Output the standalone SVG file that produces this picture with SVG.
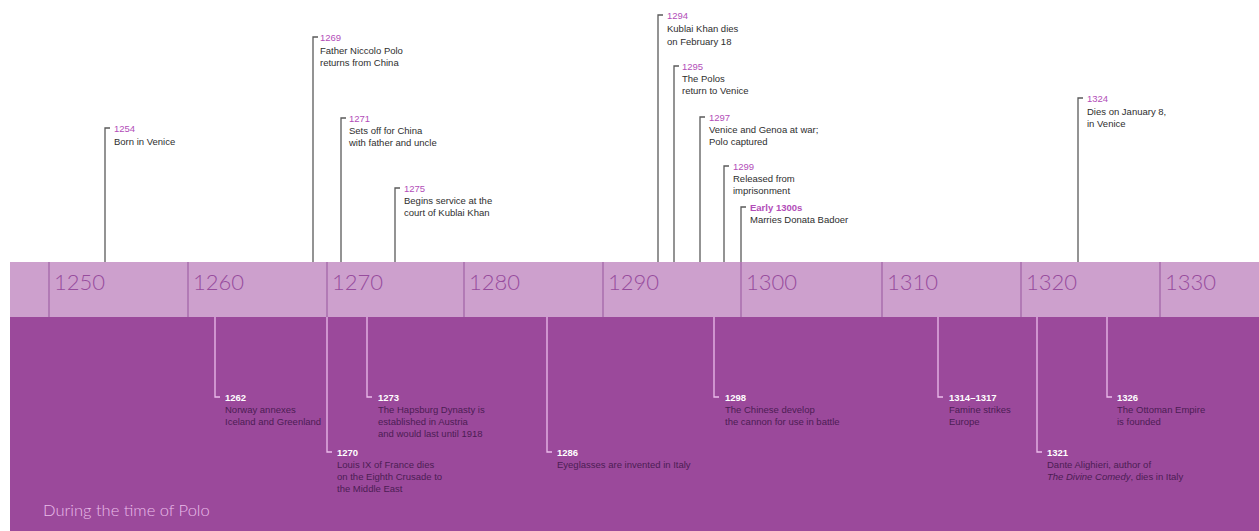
<svg xmlns="http://www.w3.org/2000/svg" width="1259" height="531" viewBox="0 0 1259 531">
<style>
.bg{fill:#ffffff}
.band{fill:#cda0cd}
.dark{fill:#9b499b}
.tick{stroke:#a062a6;stroke-width:1.2;fill:none}
.yl{font-family:"Lato","Liberation Sans",sans-serif;font-weight:300;font-size:22px;fill:#974c9d}
.tc{stroke:#5a5a5a;stroke-width:1.3;fill:none}
.bc{stroke:#ecbcec;stroke-width:1.3;fill:none}
.ty{font-family:"Liberation Sans",sans-serif;font-size:9.5px;fill:#b24db8}
.tt{font-family:"Liberation Sans",sans-serif;font-size:9.5px;fill:#2e2e2e}
.by{font-family:"Liberation Sans",sans-serif;font-size:9.5px;font-weight:bold;fill:#ffffff}
.bt{font-family:"Liberation Sans",sans-serif;font-size:9.5px;fill:#4c1d54}
.title{font-family:"Lato","Liberation Sans",sans-serif;font-weight:300;font-size:16.5px;fill:#e9bde9}
</style>
<rect class="bg" x="0" y="0" width="1259" height="531"/>
<g id="band">
<rect class="band" x="10" y="262" width="1249" height="55"/>
<rect class="dark" x="10" y="317" width="1249" height="214"/>
<path class="tick" d="M49,262V317M188,262V317M327,262V317M464,262V317M603,262V317M741,262V317M882,262V317M1021,262V317M1160,262V317"/>
<text class="yl" x="54" y="290">1250</text>
<text class="yl" x="193" y="290">1260</text>
<text class="yl" x="332" y="290">1270</text>
<text class="yl" x="469" y="290">1280</text>
<text class="yl" x="608" y="290">1290</text>
<text class="yl" x="746" y="290">1300</text>
<text class="yl" x="887" y="290">1310</text>
<text class="yl" x="1026" y="290">1320</text>
<text class="yl" x="1165" y="290">1330</text>
</g>
<g id="connectors">
<path class="tc" d="M105,262V128H110"/>
<path class="tc" d="M313,262V37H318"/>
<path class="tc" d="M341,262V118H346"/>
<path class="tc" d="M395,262V188H400"/>
<path class="tc" d="M658,262V15H663"/>
<path class="tc" d="M674,262V66H679"/>
<path class="tc" d="M700,262V117H705"/>
<path class="tc" d="M724,262V166H729"/>
<path class="tc" d="M741,262V207H746"/>
<path class="tc" d="M1078,262V98H1083"/>
<path class="bc" d="M215,317V397H220"/>
<path class="bc" d="M327,317V452H332"/>
<path class="bc" d="M367,317V397H372"/>
<path class="bc" d="M547,317V452H552"/>
<path class="bc" d="M714,317V397H719"/>
<path class="bc" d="M938,317V397H943"/>
<path class="bc" d="M1037,317V452H1042"/>
<path class="bc" d="M1107,317V397H1112"/>
</g>
<g id="e1254"><text class="ty" x="114" y="132">1254</text><text class="tt" x="114" y="145">Born in Venice</text></g>
<g id="e1269"><text class="ty" x="320" y="41">1269</text><text class="tt" x="320" y="54">Father Niccolo Polo</text><text class="tt" x="320" y="66">returns from China</text></g>
<g id="e1271"><text class="ty" x="349" y="122">1271</text><text class="tt" x="349" y="134">Sets off for China</text><text class="tt" x="349" y="146">with father and uncle</text></g>
<g id="e1275"><text class="ty" x="404" y="192">1275</text><text class="tt" x="404" y="204">Begins service at the</text><text class="tt" x="404" y="216">court of Kublai Khan</text></g>
<g id="e1294"><text class="ty" x="667" y="19">1294</text><text class="tt" x="667" y="32">Kublai Khan dies</text><text class="tt" x="667" y="45">on February 18</text></g>
<g id="e1295"><text class="ty" x="682" y="70">1295</text><text class="tt" x="682" y="82">The Polos</text><text class="tt" x="682" y="94">return to Venice</text></g>
<g id="e1297"><text class="ty" x="709" y="121">1297</text><text class="tt" x="709" y="133">Venice and Genoa at war;</text><text class="tt" x="709" y="145">Polo captured</text></g>
<g id="e1299"><text class="ty" x="733" y="170">1299</text><text class="tt" x="733" y="182">Released from</text><text class="tt" x="733" y="194">imprisonment</text></g>
<g id="e1300s"><text class="ty" x="750" y="211" font-weight="bold">Early 1300s</text><text class="tt" x="750" y="223">Marries Donata Badoer</text></g>
<g id="e1324"><text class="ty" x="1087" y="102">1324</text><text class="tt" x="1087" y="115">Dies on January 8,</text><text class="tt" x="1087" y="127">in Venice</text></g>
<g id="e1262"><text class="by" x="225" y="401">1262</text><text class="bt" x="225" y="413">Norway annexes</text><text class="bt" x="225" y="425">Iceland and Greenland</text></g>
<g id="e1270"><text class="by" x="337" y="456">1270</text><text class="bt" x="337" y="468">Louis IX of France dies</text><text class="bt" x="337" y="480">on the Eighth Crusade to</text><text class="bt" x="337" y="492">the Middle East</text></g>
<g id="e1273"><text class="by" x="378" y="401">1273</text><text class="bt" x="378" y="413">The Hapsburg Dynasty is</text><text class="bt" x="378" y="425">established in Austria</text><text class="bt" x="378" y="437">and would last until 1918</text></g>
<g id="e1286"><text class="by" x="557" y="456">1286</text><text class="bt" x="557" y="468">Eyeglasses are invented in Italy</text></g>
<g id="e1298"><text class="by" x="725" y="401">1298</text><text class="bt" x="725" y="413">The Chinese develop</text><text class="bt" x="725" y="425">the cannon for use in battle</text></g>
<g id="e1314"><text class="by" x="949" y="401">1314–1317</text><text class="bt" x="949" y="413">Famine strikes</text><text class="bt" x="949" y="425">Europe</text></g>
<g id="e1321"><text class="by" x="1047" y="456">1321</text><text class="bt" x="1047" y="468">Dante Alighieri, author of</text><text class="bt" x="1047" y="480"><tspan font-style="italic">The Divine Comedy</tspan>, dies in Italy</text></g>
<g id="e1326"><text class="by" x="1117" y="401">1326</text><text class="bt" x="1117" y="413">The Ottoman Empire</text><text class="bt" x="1117" y="425">is founded</text></g>
<text class="title" x="43" y="516">During the time of Polo</text>
</svg>
